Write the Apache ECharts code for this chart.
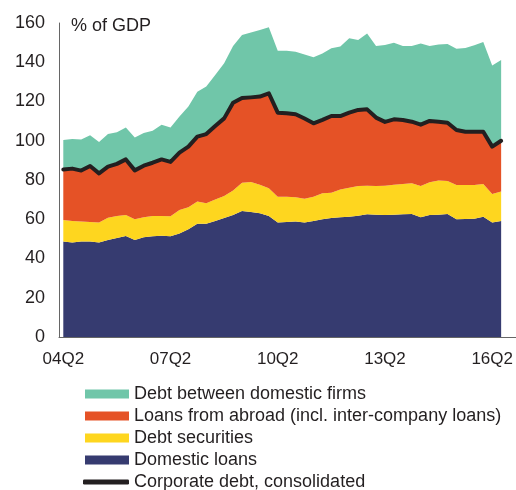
<!DOCTYPE html>
<html>
<head>
<meta charset="utf-8">
<script src="https://cdn.jsdelivr.net/npm/echarts@6/dist/echarts.min.js"></script>
<style>
html,body{margin:0;padding:0;background:#fff;}
#chart{width:516px;height:490px;}
</style>
</head>
<body>
<div id="chart"></div>
<script>
var quarters = ["04Q2","04Q3","04Q4","05Q1","05Q2","05Q3","05Q4","06Q1","06Q2","06Q3","06Q4","07Q1",
"07Q2","07Q3","07Q4","08Q1","08Q2","08Q3","08Q4","09Q1","09Q2","09Q3","09Q4","10Q1",
"10Q2","10Q3","10Q4","11Q1","11Q2","11Q3","11Q4","12Q1","12Q2","12Q3","12Q4","13Q1",
"13Q2","13Q3","13Q4","14Q1","14Q2","14Q3","14Q4","15Q1","15Q2","15Q3","15Q4","16Q1",
"16Q2","16Q3"];

var domesticLoans = [48.6,48.2,48.6,48.7,48.1,49.4,50.4,51.5,49.4,50.8,51.3,51.6,
51.3,52.8,54.9,57.7,57.7,59.1,60.6,62.2,64.2,63.7,63.0,61.7,
58.4,58.6,58.9,58.4,59.1,60.0,60.6,61.0,61.3,61.8,62.5,62.3,
62.2,62.3,62.5,62.7,61.0,62.2,62.3,62.7,60.0,60.1,60.3,61.3,
58.4,59.1];

var debtSecurities = [11.0,10.9,10.2,9.9,10.2,11.4,11.3,10.7,10.6,10.2,10.4,10.1,
10.2,11.9,11.2,11.3,10.4,11.0,11.2,12.4,14.4,15.3,14.6,14.1,
13.1,12.9,12.3,12.1,12.4,13.2,12.9,14.2,14.8,15.1,14.6,14.6,
14.9,15.3,15.5,15.6,15.9,16.6,17.4,16.8,17.5,17.4,17.2,16.7,
14.5,15.0];

var loansAbroad = [25.7,26.7,26.0,28.5,25.1,26.0,26.5,28.3,24.9,26.3,27.1,28.8,
27.7,29.2,30.9,33.1,35.3,37.4,39.6,44.8,43.2,43.1,44.9,48.4,
42.8,42.5,42.3,40.8,37.4,37.4,39.1,37.4,38.2,38.8,38.9,34.9,
32.5,33.3,32.6,31.4,31.3,31.3,30.0,29.7,28.0,27.1,27.1,26.6,
24.1,25.9];

var debtBetweenFirms = [15.1,15.1,15.9,15.7,16.0,16.6,16.1,16.3,16.8,16.6,16.3,17.7,
17.6,18.4,20.4,22.9,24.2,26.0,28.1,28.9,32.1,33.0,33.9,33.6,
31.6,31.9,31.9,32.7,33.6,33.9,34.5,35.4,37.9,35.6,38.7,36.5,
39.2,39.1,37.7,38.6,41.4,38.2,39.4,40.1,41.4,42.7,44.0,45.7,
41.3,41.1];

var consolidated = [85.3,85.8,84.8,87.1,83.4,86.8,88.2,90.5,84.9,87.3,88.8,90.5,
89.2,93.9,97.0,102.1,103.4,107.5,111.4,119.4,121.8,122.1,122.5,124.2,
114.3,114.0,113.5,111.3,108.9,110.6,112.6,112.6,114.3,115.7,116.0,111.8,
109.6,110.9,110.6,109.7,108.2,110.1,109.7,109.2,105.5,104.6,104.6,104.6,
97.0,100.0];

var yTicks = {min: 0, max: 160, interval: 20};

var names = {
  between: "Debt between domestic firms",
  abroad: "Loans from abroad (incl. inter-company loans)",
  securities: "Debt securities",
  domestic: "Domestic loans",
  consolidated: "Corporate debt, consolidated"
};

var colors = {
  between: "#70c6a9",
  abroad: "#e55226",
  securities: "#fed61f",
  domestic: "#363b70",
  line: "#231f20"
};

var FONT = "Liberation Sans, Arial, sans-serif";
var TXT = "#231f20";
var AXIS = "#666666";

function areaSeries(name, data, color) {
  return {
    name: name, type: "line", stack: "total", data: data,
    xAxisIndex: 0, yAxisIndex: 0,
    showSymbol: false, symbol: "none",
    lineStyle: {width: 0, color: color},
    itemStyle: {color: color},
    areaStyle: {color: color, opacity: 1},
    emphasis: {disabled: true},
    silent: true
  };
}

var chart = echarts.init(document.getElementById("chart"), null, {renderer: "canvas"});
chart.setOption({
  animation: false,
  backgroundColor: "#ffffff",
  textStyle: {fontFamily: FONT},
  title: {
    text: "% of GDP", left: 66, top: 12,
    textStyle: {fontFamily: FONT, fontSize: 18, fontWeight: "normal", color: TXT}
  },
  grid: [
    {left: 63.3, right: 14.3, top: 23, bottom: 153},
    {left: 59, right: 0, top: 23, bottom: 153}
  ],
  xAxis: [
    {
      gridIndex: 0, type: "category", boundaryGap: false, data: quarters,
      axisLine: {show: false}, axisTick: {show: false}, splitLine: {show: false},
      axisLabel: {interval: 11, margin: 14, fontSize: 17, color: TXT, fontFamily: FONT}
    },
    {
      gridIndex: 1, type: "value", min: 0, max: 1,
      axisLine: {show: true, lineStyle: {color: AXIS, width: 1}},
      axisTick: {show: false}, axisLabel: {show: false}, splitLine: {show: false}
    }
  ],
  yAxis: [
    {gridIndex: 0, type: "value", min: yTicks.min, max: yTicks.max, interval: yTicks.interval, show: false},
    {
      gridIndex: 1, type: "value", min: yTicks.min, max: yTicks.max, interval: yTicks.interval,
      axisLine: {show: true, lineStyle: {color: AXIS, width: 1}},
      axisTick: {show: false}, splitLine: {show: false},
      axisLabel: {margin: 14, fontSize: 18, color: TXT, fontFamily: FONT}
    }
  ],
  legend: [
    {
      orient: "vertical", left: 85, top: 385, padding: 0, itemGap: 4,
      itemWidth: 44, itemHeight: 9, icon: "rect", selectedMode: false,
      textStyle: {fontSize: 18, color: TXT, fontFamily: FONT},
      data: [names.between, names.abroad, names.securities, names.domestic]
    },
    {
      orient: "vertical", left: 83, top: 473, padding: 0,
      itemWidth: 46, itemHeight: 5, icon: "roundRect", selectedMode: false,
      textStyle: {fontSize: 18, color: TXT, fontFamily: FONT},
      data: [names.consolidated]
    }
  ],
  series: [
    areaSeries(names.domestic, domesticLoans, colors.domestic),
    areaSeries(names.securities, debtSecurities, colors.securities),
    areaSeries(names.abroad, loansAbroad, colors.abroad),
    areaSeries(names.between, debtBetweenFirms, colors.between),
    {
      name: names.consolidated, type: "line", data: consolidated,
      xAxisIndex: 0, yAxisIndex: 0, z: 5,
      showSymbol: false, symbol: "none",
      lineStyle: {width: 4, color: colors.line, join: "round", cap: "round"},
      itemStyle: {color: colors.line},
      emphasis: {disabled: true}, silent: true
    }
  ]
});
</script>
</body>
</html>
